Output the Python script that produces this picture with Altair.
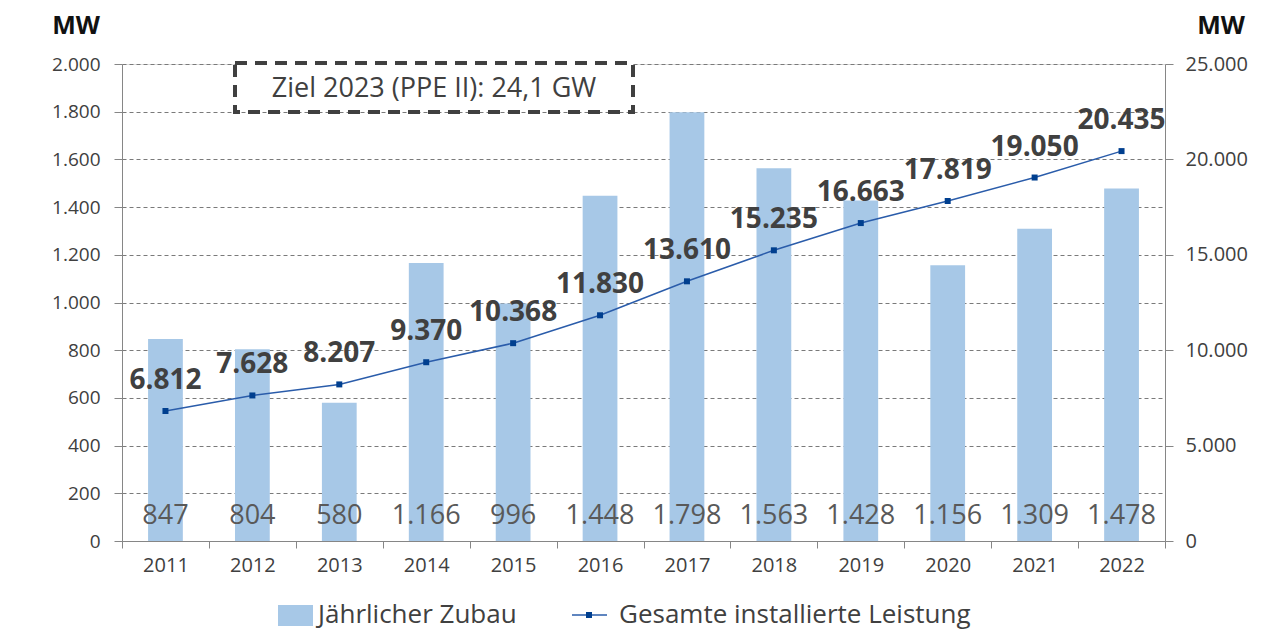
import altair as alt
import pandas as pd

years = [str(y) for y in range(2011, 2023)]
zubau = [847, 804, 580, 1166, 996, 1448, 1798, 1563, 1428, 1156, 1309, 1478]
gesamt = [6812, 7628, 8207, 9370, 10368, 11830, 13610, 15235, 16663, 17819, 19050, 20435]
left_ticks = list(range(0, 2001, 200))
right_ticks = list(range(0, 25001, 5000))
bar_name = "Jährlicher Zubau"
line_name = "Gesamte installierte Leistung"
target_text = "Ziel 2023 (PPE II): 24,1 GW"

FONT = "Open Sans"
TXT = "#404040"
BAR = "#A7C8E7"
LINE = "#2A5CAA"
PT = "#003F8F"
AXC = "#868686"

de_fmt = "replace(format(datum.value, ','), ',', '.')"

df = pd.DataFrame({"year": years, "zubau": zubau, "gesamt": gesamt})
df["zubau_label"] = [f"{v:,}".replace(",", ".") for v in zubau]
df["gesamt_label"] = [f"{v:,}".replace(",", ".") for v in gesamt]
one = pd.DataFrame({"a": [0]})

x = alt.X(
    "year:N", sort=years,
    scale=alt.Scale(paddingInner=0, paddingOuter=0),
    axis=alt.Axis(title=None, labelAngle=0, tickBand="extent", tickSize=7,
                  labelPadding=7, labelFontSize=20, labelColor=TXT, labelFont=FONT,
                  domainColor=AXC, tickColor=AXC, grid=False),
)

y_left = alt.Y(
    "zubau:Q",
    scale=alt.Scale(domain=[0, 2000], nice=False),
    axis=alt.Axis(title=None, orient="left", values=left_ticks, labelExpr=de_fmt,
                  grid=True, gridColor="#7a7a7a", gridDash=[4, 3], gridWidth=1,
                  tickSize=8, tickColor=AXC, domainColor=AXC, labelPadding=14,
                  labelFontSize=19, labelColor=TXT, labelFont=FONT),
)

y_right = alt.Y(
    "gesamt:Q",
    scale=alt.Scale(domain=[0, 25000], nice=False),
    axis=alt.Axis(title=None, orient="right", values=right_ticks, labelExpr=de_fmt,
                  grid=False, tickSize=8, tickColor=AXC, domainColor=AXC,
                  labelPadding=12, labelFontSize=20, labelColor=TXT, labelFont=FONT),
)

bars = alt.Chart(df).mark_bar(width=alt.RelativeBandSize(0.4), color=BAR).encode(x=x, y=y_left)
bar_text = alt.Chart(df).mark_text(fontSize=27, font=FONT, color="#595959", baseline="middle").encode(
    x=x, y=alt.value(452), text="zubau_label:N")
left = alt.layer(bars, bar_text)

line = alt.Chart(df).mark_line(color=LINE, strokeWidth=1.5).encode(x=x, y=y_right)
pts = alt.Chart(df).mark_square(size=36, color=PT, opacity=1).encode(x=x, y=y_right)
line_text = alt.Chart(df).mark_text(fontSize=28, font=FONT, fontWeight="bold", color=TXT,
                                    baseline="middle", dy=-30).encode(
    x=x, y=y_right, text="gesamt_label:N")
right = alt.layer(line, pts, line_text)

box = alt.Chart(one).mark_rect(fill="white", stroke="#404040", strokeWidth=4, strokeDash=[12, 8]).encode(
    x=alt.value(113), x2=alt.value(511), y=alt.value(-1), y2=alt.value(48))
box_text = alt.Chart(one).mark_text(text=target_text, fontSize=27, font=FONT, color=TXT,
                                    baseline="middle", align="center").encode(
    x=alt.value(312), y=alt.value(25))
mw_left = alt.Chart(one).mark_text(text="MW", fontSize=25, font=FONT, fontWeight="bold", color="#111111",
                                   baseline="alphabetic", align="center").encode(
    x=alt.value(-46), y=alt.value(-30))
mw_right = alt.Chart(one).mark_text(text="MW", fontSize=25, font=FONT, fontWeight="bold", color="#111111",
                                    baseline="alphabetic", align="center").encode(
    x=alt.value(1099), y=alt.value(-30))

leg_rect = alt.Chart(one).mark_rect(color=BAR).encode(
    x=alt.value(156), x2=alt.value(191), y=alt.value(541), y2=alt.value(562))
leg_t1 = alt.Chart(one).mark_text(text=bar_name, fontSize=26, font=FONT, color=TXT,
                                  align="left", baseline="middle").encode(
    x=alt.value(196), y=alt.value(551))
leg_line = alt.Chart(one).mark_rule(color=LINE, strokeWidth=1.5).encode(
    x=alt.value(450), x2=alt.value(485), y=alt.value(551))
leg_pt = alt.Chart(one).mark_square(size=36, color=PT, opacity=1).encode(
    x=alt.value(467), y=alt.value(551))
leg_t2 = alt.Chart(one).mark_text(text=line_name, fontSize=26, font=FONT, color=TXT,
                                  align="left", baseline="middle").encode(
    x=alt.value(497), y=alt.value(551))

chart = alt.layer(
    left, right, box, box_text, mw_left, mw_right, leg_rect, leg_t1, leg_line, leg_pt, leg_t2
).resolve_scale(y="independent").properties(
    width=1043, height=477,
    autosize=alt.AutoSizeParams(type="none"),
    padding={"left": 114, "top": 56, "right": 100, "bottom": 92},
).configure_view(stroke=None).configure(font=FONT)

chart.save("out.html", embed_options={"renderer": "svg", "actions": False})
